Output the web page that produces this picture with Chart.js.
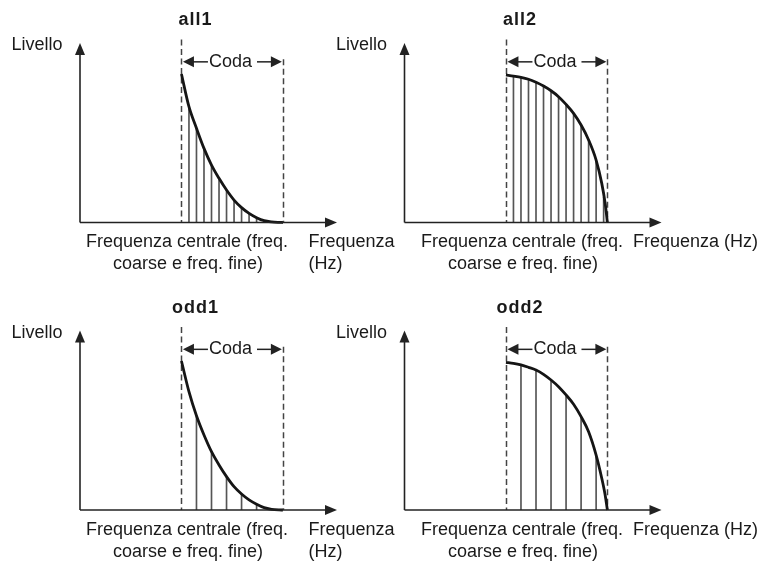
<!DOCTYPE html>
<html>
<head>
<meta charset="utf-8">
<script src="https://cdn.jsdelivr.net/npm/chart.js@4"></script>
<style>
  body { margin: 0; background: #fff; }
  #wrap { position: relative; width: 767px; height: 561px; }
  #wrap canvas { position: absolute; left: 0; top: 0; }
</style>
</head>
<body>
<div id="wrap">
  <canvas id="all1" width="767" height="561"></canvas>
  <canvas id="all2" width="767" height="561"></canvas>
  <canvas id="odd1" width="767" height="561"></canvas>
  <canvas id="odd2" width="767" height="561"></canvas>
</div>
<script>
// harmonic index, 0 = centre frequency, 13.5 = end of the "Coda"
const steepSteps = [0, 1, 2, 3, 4, 5, 6, 7, 8, 9, 10, 11, 12, 13, 13.5];
const roundSteps = [0, 1, 2, 3, 4, 5, 6, 7, 8, 9, 10, 11, 12, 12.75, 13.2, 13.5];

const all1Curve = [82.7, 64.5, 52.5, 41.3, 32.0, 24.6, 18.1, 12.5, 8.3, 5.1, 2.7, 1.0, 0.3, 0.05, 0];
const odd1Curve = [83.0, 65.9, 52.5, 41.8, 32.5, 25.1, 18.6, 13.0, 8.9, 5.6, 3.2, 1.3, 0.4, 0.05, 0];
const all2Curve = [82.2, 81.6, 80.9, 79.8, 78.1, 76.0, 73.4, 70.1, 65.8, 60.8, 54.3, 46.0, 34.8, 21.8, 10.7, 0];
const odd2Curve = [82.3, 81.7, 80.8, 79.5, 78.0, 75.6, 72.4, 68.7, 64.1, 58.9, 52.0, 43.6, 30.6, 17.7, 8.4, 0];

const allHarmonics = [1, 2, 3, 4, 5, 6, 7, 8, 9, 10, 11, 12, 13];
const oddHarmonics = [2, 4, 6, 8, 10, 12];

const all1Lines = [64.5, 52.5, 41.3, 32.0, 24.6, 18.1, 12.5, 8.3, 5.1, 2.7, 1.0, 0.3, 0.05];
const all2Lines = [81.6, 80.9, 79.8, 78.1, 76.0, 73.4, 70.1, 65.8, 60.8, 54.3, 46.0, 34.8, 14.0];
const odd1Lines = [52.5, 32.5, 18.6, 8.9, 3.2, 0.4];
const odd2Lines = [80.8, 78.0, 72.4, 64.1, 52.0, 30.6];

const codaStart = 0;
const codaEnd = 13.5;
const codaLevel = 89.5;

const levelLabel = "Livello";
const codaLabel = "Coda";
const centreLabel = ["Frequenza centrale (freq.", "coarse e freq. fine)"];
const freqLabelShort = ["Frequenza", "(Hz)"];
const freqLabelLong = ["Frequenza (Hz)"];

const FONT = '"Liberation Sans", Arial, Helvetica, sans-serif';
const INK = "#1a1a1a";

const panels = [
  { id: "all1", title: "all1", steps: steepSteps, curve: all1Curve, harm: allHarmonics, lines: all1Lines,
    area: { left: 80, top: 43, right: 337, bottom: 222.5 }, centreX: 187, freq: freqLabelShort, freqX: 308.5 },
  { id: "all2", title: "all2", steps: roundSteps, curve: all2Curve, harm: allHarmonics, lines: all2Lines,
    area: { left: 404.5, top: 43, right: 661.5, bottom: 222.5 }, centreX: 522, freq: freqLabelLong, freqX: 633 },
  { id: "odd1", title: "odd1", steps: steepSteps, curve: odd1Curve, harm: oddHarmonics, lines: odd1Lines,
    area: { left: 80, top: 330.5, right: 337, bottom: 510 }, centreX: 187, freq: freqLabelShort, freqX: 308.5 },
  { id: "odd2", title: "odd2", steps: roundSteps, curve: odd2Curve, harm: oddHarmonics, lines: odd2Lines,
    area: { left: 404.5, top: 330.5, right: 661.5, bottom: 510 }, centreX: 522, freq: freqLabelLong, freqX: 633 }
];

function seg(ctx, x1, y1, x2, y2) {
  ctx.beginPath();
  ctx.moveTo(x1, y1);
  ctx.lineTo(x2, y2);
  ctx.stroke();
}

function head(ctx, tipX, tipY, dx, dy, len, half) {
  // dx, dy = unit direction the arrow points to
  ctx.beginPath();
  ctx.moveTo(tipX, tipY);
  ctx.lineTo(tipX - dx * len - dy * half, tipY - dy * len + dx * half);
  ctx.lineTo(tipX - dx * len + dy * half, tipY - dy * len - dx * half);
  ctx.closePath();
  ctx.fill();
}

const diagramPlugin = {
  id: "diagram",
  beforeDatasetsDraw(chart) {
    const { ctx, chartArea: a, scales: { x, y } } = chart;
    ctx.save();
    ctx.strokeStyle = "#444";
    ctx.lineWidth = 1.5;
    ctx.setLineDash([6, 3.5]);
    const xs = Math.round(x.getPixelForValue(codaStart)) + 0.5;
    const xe = Math.round(x.getPixelForValue(codaEnd)) + 0.5;
    seg(ctx, xs, y.getPixelForValue(102), xs, a.bottom);
    seg(ctx, xe, y.getPixelForValue(91), xe, a.bottom);
    ctx.restore();
  },
  afterDatasetsDraw(chart, args, opts) {
    const { ctx, chartArea: a, scales: { x, y } } = chart;
    const p = opts.panel;
    ctx.save();
    ctx.strokeStyle = "#222";
    ctx.fillStyle = "#222";
    ctx.lineWidth = 1.6;
    // axes with arrows
    seg(ctx, a.left, a.bottom, a.left, a.top + 8);
    head(ctx, a.left, a.top, 0, -1, 12, 5);
    seg(ctx, a.left, a.bottom, a.right - 8, a.bottom);
    head(ctx, a.right, a.bottom, 1, 0, 12, 5);

    // Coda arrow
    const yc = y.getPixelForValue(codaLevel);
    const x0 = x.getPixelForValue(codaStart) + 1.5;
    const x1 = x.getPixelForValue(codaEnd) - 1;
    ctx.lineWidth = 1.5;
    ctx.font = "18px " + FONT;
    const tw = ctx.measureText(codaLabel).width;
    seg(ctx, x0 + 8, yc, x0 + 25, yc);
    head(ctx, x0, yc, -1, 0, 11, 5.5);
    seg(ctx, x0 + 27 + tw + 4, yc, x1 - 8, yc);
    head(ctx, x1, yc, 1, 0, 11, 5.5);

    ctx.fillStyle = INK;
    ctx.textBaseline = "alphabetic";
    ctx.textAlign = "left";
    ctx.fillText(codaLabel, x0 + 26, yc + 5);

    // level label
    ctx.textAlign = "right";
    ctx.fillText(levelLabel, a.left - 17.5, a.top + 7);

    // frequency labels
    ctx.textAlign = "center";
    ctx.fillText(centreLabel[0], p.centreX, a.bottom + 24.5);
    ctx.fillText(centreLabel[1], p.centreX + 1, a.bottom + 46.5);
    ctx.textAlign = "left";
    p.freq.forEach((t, i) => ctx.fillText(t, p.freqX, a.bottom + 24.5 + i * 22));

    // title
    ctx.font = "bold 18px " + FONT;
    ctx.letterSpacing = "1px";
    ctx.textAlign = "center";
    ctx.fillText(p.title, x.getPixelForValue(codaStart) + 14, a.top - 18);
    ctx.restore();
  }
};

panels.forEach(p => {
  const canvas = document.getElementById(p.id);
  new Chart(canvas, {
    type: "bar",
    data: {
      datasets: [
        {
          type: "line",
          data: p.steps.map((s, i) => ({ x: s, y: p.curve[i] })),
          borderColor: "#151515",
          borderWidth: 2.8,
          pointRadius: 0,
          cubicInterpolationMode: "monotone",
          fill: false,
          clip: false
        },
        {
          type: "bar",
          data: p.harm.map((h, i) => ({ x: h, y: p.lines[i] })),
          backgroundColor: "#555",
          barThickness: 1,
          borderWidth: 0
        }
      ]
    },
    options: {
      responsive: false,
      animation: false,
      events: [],
      layout: {
        padding: {
          left: p.area.left,
          top: p.area.top,
          right: 767 - p.area.right,
          bottom: 561 - p.area.bottom
        }
      },
      scales: {
        x: { type: "linear", min: -13.5, max: 20.7, offset: false, display: false },
        y: { min: 0, max: 100, display: false }
      },
      plugins: {
        legend: { display: false },
        tooltip: { enabled: false },
        diagram: { panel: p }
      }
    },
    plugins: [diagramPlugin]
  });
});
</script>
</body>
</html>
